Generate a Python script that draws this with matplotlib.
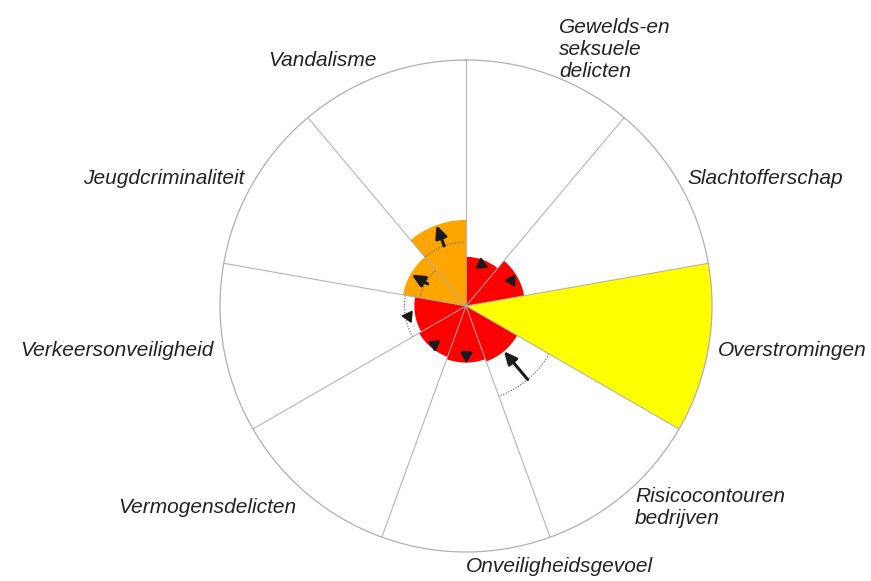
import numpy as np
import matplotlib
matplotlib.use("Agg")
import matplotlib.pyplot as plt

# ---- data ----
categories = ["Gewelds-en\nseksuele\ndelicten", "Slachtofferschap", "Overstromingen",
              "Risicocontouren\nbedrijven", "Onveiligheidsgevoel", "Vermogensdelicten",
              "Verkeersonveiligheid", "Jeugdcriminaliteit", "Vandalisme"]
scores = [20, 24, 100, 24, 23, 22, 21, 26, 35]
score_class = ["red", "red", "yellow", "red", "red", "red", "red", "orange", "orange"]
# previous (reference) level shown as dotted arc, None where absent
previous = [None, None, None, 39, None, None, 25, 19, 26]
# trend arrows: (from, to) radii, None where absent
arrow_from = [None, None, None, 39, None, None, None, 18, 26]
arrow_to = [None, None, None, 24, None, None, None, 25.5, 35]
# small trend markers: radius and screen heading (deg)
marker_r = [18, 21, None, None, 20, 20, 24, None, None]
marker_heading = [95, 300, None, None, 270, 275, 175, None, None]

RMAX = 100

colors = {"red": "#ff0000", "yellow": "#ffff00", "orange": "#ffa500"}

W, H = 871, 581
fig = plt.figure(figsize=(W / 100, H / 100), dpi=100)
cx, cy, R = 466, 306, 246
ax = fig.add_axes([(cx - R) / W, (H - cy - R) / H, 2 * R / W, 2 * R / H], projection="polar")
ax.set_theta_zero_location("N")
ax.set_theta_direction(-1)
ax.set_ylim(0, RMAX)

n = len(categories)
width = 2 * np.pi / n
starts = np.arange(n) * width
centers = starts + width / 2

ax.bar(starts, scores, width=width, align="edge",
       color=[colors[c] for c in score_class], edgecolor="none", zorder=2)

# spokes on top
for s in starts:
    ax.plot([s, s], [0, RMAX], color="#a8a8a8", lw=0.8, zorder=4, alpha=0.85)
ax.grid(False)
ax.set_xticks([])
ax.set_yticks([])
ax.spines["polar"].set_color("#b0b0b0")
ax.spines["polar"].set_linewidth(0.9)

# dotted arcs
for i, p in enumerate(previous):
    if p is None:
        continue
    th = np.linspace(starts[i], starts[i] + width, 60)
    ax.plot(th, np.full_like(th, p), color="#555555", lw=0.8, ls=(0, (1, 1.5)), zorder=3)

# arrows
for i, (a, b) in enumerate(zip(arrow_from, arrow_to)):
    if a is None:
        continue
    ax.annotate("", xy=(centers[i], b), xytext=(centers[i], a),
                arrowprops=dict(arrowstyle="-|>,head_length=0.75,head_width=0.35",
                                color="#1a1a1a", lw=2.2, shrinkA=0, shrinkB=0),
                zorder=5)

# small triangles
for i, (r, hd) in enumerate(zip(marker_r, marker_heading)):
    if r is None:
        continue
    ax.plot([centers[i]], [r], marker=(3, 0, hd - 90), markersize=9,
            color="#1a1a1a", zorder=5, linestyle="none")

# labels
label_r = [11.1, 10.4, 10.4, 10.7, 10.6, 10.7, 10.4, 10.4, 10.6]
for i, lab in enumerate(categories):
    deg = np.degrees(centers[i])
    ha = "left" if deg <= 180 else "right"
    ax.text(centers[i], label_r[i] * RMAX / 10, lab, ha=ha, va="center",
            fontsize=15, style="italic", family="Liberation Sans",
            color="#222222", linespacing=1.2, clip_on=False)

fig.savefig("out.png", dpi=100)
